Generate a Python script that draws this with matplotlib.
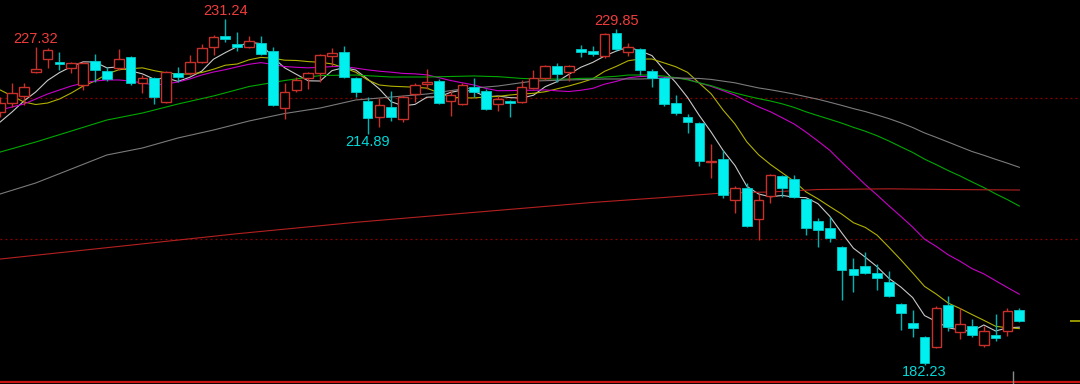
import numpy as np
import pandas as pd
import matplotlib
matplotlib.use('Agg')
import matplotlib.pyplot as plt

# daily candles (price units)
opens = [218.06, 219.33, 220.33, 223.73, 225.57, 225.15, 224.30, 221.88, 225.29, 223.87,
         224.30, 225.86, 222.16, 222.87, 219.48, 223.58, 223.58, 225.15, 227.28, 228.84,
         227.70, 227.28, 227.85, 226.71, 218.62, 221.18, 222.87, 223.58, 226.00, 226.57,
         222.87, 219.62, 217.35, 218.77, 217.07, 220.61, 222.02, 222.45, 219.62, 219.19,
         221.60, 221.04, 219.19, 219.62, 219.48, 221.46, 222.87, 224.58, 223.73, 226.99,
         226.71, 226.00, 229.26, 226.57, 226.99, 223.87, 222.87, 219.33, 217.35, 216.50,
         210.97, 211.39, 205.57, 207.27, 202.88, 206.14, 208.98, 208.55, 205.71, 202.59,
         201.60, 198.91, 195.79, 196.21, 195.22, 193.94, 190.82, 188.13, 186.14, 184.73,
         190.68, 186.85, 187.70, 185.01, 186.43, 187.00, 189.97]
highs = [220.19, 222.16, 222.16, 227.32, 227.20, 226.57, 225.15, 225.15, 226.28, 224.44,
         226.99, 226.00, 223.30, 223.01, 223.87, 224.44, 226.14, 227.70, 228.98, 231.24,
         229.41, 228.84, 228.84, 227.28, 222.16, 223.01, 223.73, 226.28, 227.14, 227.42,
         223.01, 220.19, 220.05, 221.04, 220.47, 222.16, 224.15, 222.73, 221.18, 222.16,
         222.87, 221.32, 220.33, 219.76, 222.59, 224.01, 224.72, 225.00, 224.72, 227.56,
         227.42, 229.26, 229.85, 227.85, 227.14, 224.15, 223.01, 220.47, 217.77, 216.64,
         213.52, 212.67, 207.56, 207.98, 206.43, 209.20, 209.12, 209.12, 205.86, 203.02,
         203.16, 199.05, 197.35, 198.20, 196.50, 195.50, 190.96, 189.97, 186.28, 190.54,
         191.96, 190.26, 188.69, 187.70, 189.40, 190.26, 190.26]
lows = [217.35, 218.77, 219.05, 223.60, 224.30, 224.01, 223.58, 221.18, 222.31, 222.45,
        224.01, 221.88, 220.75, 219.19, 219.33, 222.31, 223.30, 225.00, 226.14, 227.99,
        226.71, 227.14, 226.14, 218.91, 217.07, 220.90, 221.32, 222.31, 224.58, 222.87,
        220.19, 214.89, 215.93, 216.78, 216.64, 219.48, 221.32, 219.19, 217.49, 219.05,
        220.19, 218.34, 218.20, 217.35, 219.33, 221.32, 222.59, 222.31, 222.45, 225.86,
        226.00, 225.71, 226.71, 226.00, 223.30, 221.60, 218.91, 217.63, 215.07, 210.40,
        208.69, 205.86, 203.73, 201.74, 199.90, 205.15, 206.00, 205.86, 200.61, 198.91,
        199.62, 191.39, 192.52, 195.08, 192.81, 191.82, 187.14, 186.14, 182.23, 184.59,
        187.00, 185.86, 186.14, 184.72, 185.57, 186.28, 188.30]
closes = [219.33, 220.75, 221.60, 224.15, 226.85, 224.86, 225.00, 225.00, 224.01, 222.73,
          225.57, 222.16, 222.87, 220.19, 223.73, 223.01, 225.15, 227.14, 228.70, 228.41,
          227.28, 228.13, 226.28, 219.05, 220.90, 222.59, 223.58, 226.14, 226.43, 223.01,
          220.90, 217.20, 219.05, 217.35, 220.19, 221.88, 222.31, 219.33, 220.47, 221.88,
          220.90, 218.48, 219.90, 219.33, 221.60, 222.87, 224.58, 223.44, 224.58, 226.57,
          226.28, 229.12, 226.99, 227.28, 224.01, 222.87, 219.19, 217.92, 216.64, 211.11,
          211.11, 206.28, 207.27, 201.89, 205.57, 209.12, 207.27, 206.00, 201.60, 201.32,
          200.18, 195.65, 194.94, 195.22, 194.51, 191.96, 189.55, 187.42, 182.46, 190.26,
          187.56, 187.98, 186.43, 187.00, 186.00, 189.83, 188.41]

ma5_head = [216.64, 218.06, 219.62, 220.90]
ma10_head = [221.18, 220.33, 219.48, 219.12, 219.33, 219.90, 220.75, 221.74, 222.45]
ma20_head = [218.34, 218.77, 219.19, 219.90, 220.61, 221.18, 221.74, 222.17, 222.45, 222.60,
             222.60, 222.45, 222.17, 221.89, 222.03, 222.31, 222.74, 223.30, 223.73]
ma40_head_idx = [0, 3, 6, 9, 12, 15, 18, 21, 24, 27, 30, 33, 36]
ma40_head = [212.38, 213.80, 215.36, 216.92, 217.91, 219.19, 220.33, 221.67, 222.52, 223.23,
             223.30, 223.02, 223.02]
ma60_head_idx = [0, 3, 6, 9, 12, 15, 18, 21, 24, 27, 30, 33, 36, 39, 42, 45, 48, 51, 54, 57]
ma60_head = [206.43, 207.99, 209.97, 211.96, 212.95, 214.37, 215.50, 216.78, 217.84, 218.62,
             219.76, 220.18, 220.61, 221.32, 221.74, 222.45, 222.60, 222.74, 222.74, 222.88]
ma250_idx = [0, 10, 20, 30, 40, 50, 56, 61, 65, 69, 75, 80, 86]
ma250 = [197.20, 198.99, 200.79, 202.41, 203.82, 205.23, 205.93, 206.57, 206.71, 207.06,
         207.16, 207.06, 206.99]

grid_levels = [220, 200]
# (candle index, text, high/low)
extremes = [(3, '227.32', 'high'), (19, '231.24', 'high'), (31, '214.89', 'low'),
            (52, '229.85', 'high'), (78, '182.23', 'low')]

UP = '#c8302c'
DOWN = '#00f0f0'
DOWN_WICK = '#00b4b4'
BG = '#000000'

n = len(closes)
idx = np.arange(n)
o = np.array(opens); h = np.array(highs); l = np.array(lows); c = np.array(closes)
up = c >= o

fig = plt.figure(figsize=(10.8, 3.84), dpi=100, facecolor=BG)
ax = fig.add_axes([0, 0, 1, 1], facecolor=BG)
ymin, ymax = 179.475, 233.943
xmin, xmax = -0.017, 91.12
ax.set_xlim(xmin, xmax)
ax.set_ylim(ymin, ymax)
ax.set_axis_off()

for g in grid_levels:
    ax.axhline(g, color='#8c0000', lw=0.9, ls=(0, (1.5, 2.5)), zorder=1)
ax.axhline(179.76, color='#c81414', lw=1.6, zorder=1)

# moving averages
cs = pd.Series(closes)
def ma_full(period, head):
    m = cs.rolling(period).mean().to_numpy()
    m[:period - 1] = head
    return m

ax.plot(idx, ma5_full := ma_full(5, ma5_head), color='#c8c8c8', lw=0.8, zorder=2)
ax.plot(idx, ma_full(10, ma10_head), color='#b0b000', lw=0.8, zorder=2)
ax.plot(idx, ma_full(20, ma20_head), color='#c800c8', lw=0.8, zorder=2)
m40 = cs.rolling(40).mean().to_numpy()
ax.plot(ma40_head_idx + list(range(39, n)), ma40_head + list(m40[39:]),
        color='#00a800', lw=0.8, zorder=2)
m60 = cs.rolling(60).mean().to_numpy()
ax.plot(ma60_head_idx + list(range(59, n)), ma60_head + list(m60[59:]),
        color='#7a7a7a', lw=0.8, zorder=2)
ax.plot(ma250_idx, ma250, color='#b42020', lw=0.8, zorder=2)

# candles
w = 0.82
body_lo = np.minimum(o, c)
body_hi = np.maximum(o, c)
ax.vlines(idx[up], l[up], h[up], color=UP, lw=1, zorder=3)
ax.vlines(idx[~up], l[~up], h[~up], color=DOWN_WICK, lw=1, zorder=3)
ax.bar(idx[up], np.maximum(body_hi[up] - body_lo[up], 0.12), bottom=body_lo[up], width=w,
       facecolor=BG, edgecolor=UP, lw=1, zorder=4)
ax.bar(idx[~up], np.maximum(body_hi[~up] - body_lo[~up], 0.12), bottom=body_lo[~up], width=w,
       facecolor=DOWN, edgecolor='#00c8c8', lw=0.6, zorder=4)

for i, txt, kind in extremes:
    if kind == 'high':
        ax.annotate(txt, (i, h[i]), xytext=(0, 0.5), textcoords='offset points',
                    ha='center', va='bottom', color='#f03c3c', fontsize=10.5,
                    family='Liberation Sans', zorder=5)
    else:
        ax.annotate(txt, (i, l[i]), xytext=(0, -0.5), textcoords='offset points',
                    ha='center', va='top', color='#00d8d8', fontsize=10.5,
                    family='Liberation Sans', zorder=5)

# last price marker on the right edge and the small cursor tick at the bottom
ax.hlines(closes[-1], xmax - 0.85, xmax, color='#b0b000', lw=1.2, zorder=5)
ax.vlines(n - 1.5, ymin, 181.3, color='#8a8a8a', lw=1, zorder=5)

fig.savefig('out.png', dpi=100, facecolor=BG)
